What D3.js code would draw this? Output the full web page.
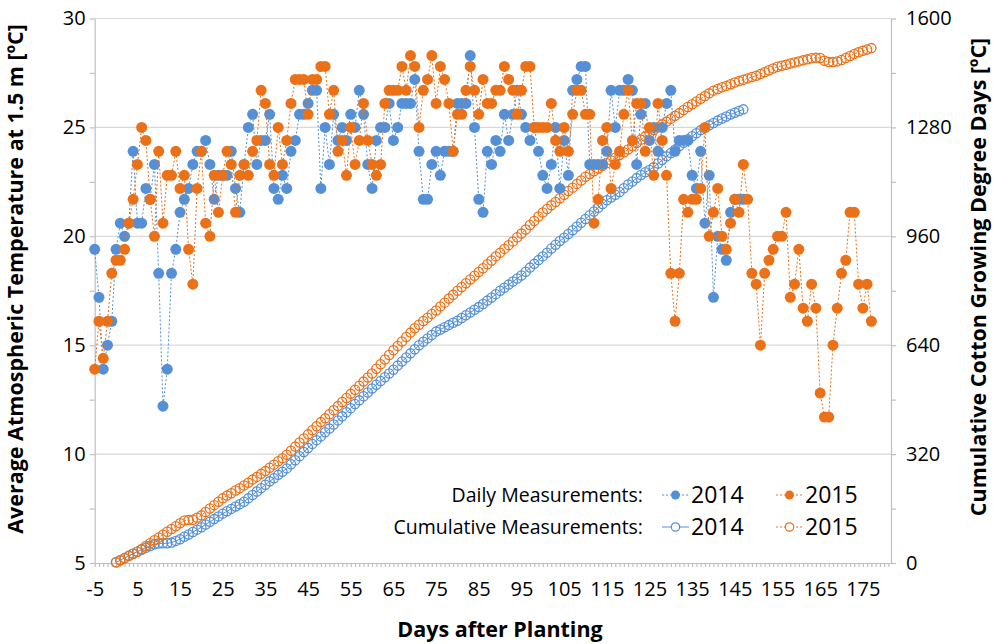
<!DOCTYPE html>
<html>
<head>
<meta charset="utf-8">
<script src="https://cdn.jsdelivr.net/npm/d3@7"></script>
<style>
  body { margin: 0; background: #fff; }
  svg text { font-family: "Open Sans", Lato, sans-serif; fill: #000; }
</style>
</head>
<body>
<svg id="chart" width="997" height="644"></svg>
<script>
// tick labels
const tempTicks = [5, 10, 15, 20, 25, 30]
const gddTicks = [0, 320, 640, 960, 1280, 1600]
const dayTicks = [-5, 5, 15, 25, 35, 45, 55, 65, 75, 85, 95, 105, 115, 125, 135, 145, 155, 165, 175]

// daily average temperature [ºC], one value per day starting at the start day
const daily2014Start = -5
const daily2014 = [
  19.4, 17.2, 13.9, 15.0, 16.1, 19.4, 20.6, 20.0, 20.6, 23.9,   // -5..4
  20.6, 20.6, 22.2, 21.7, 23.3, 18.3, 12.2, 13.9, 18.3, 19.4,   // 5..14
  21.1, 21.7, 22.2, 23.3, 23.9, 23.9, 24.4, 23.3, 21.7, 22.8,   // 15..24
  22.8, 22.8, 23.9, 22.2, 21.1, 23.3, 25.0, 25.6, 23.3, 24.4,   // 25..34
  24.4, 25.6, 22.2, 21.7, 22.8, 22.2, 23.9, 24.4, 25.6, 25.6,   // 35..44
  26.1, 26.7, 26.7, 22.2, 25.0, 23.3, 25.6, 24.4, 25.0, 24.4,   // 45..54
  25.6, 25.0, 26.7, 25.6, 23.3, 22.2, 24.4, 25.0, 25.0, 26.1,   // 55..64
  24.4, 25.0, 26.1, 26.1, 26.1, 27.2, 23.9, 21.7, 21.7, 23.3,   // 65..74
  23.9, 22.8, 23.9, 23.9, 23.9, 26.1, 26.1, 26.1, 28.3, 25.0,   // 75..84
  21.7, 21.1, 23.9, 23.3, 24.4, 23.9, 25.6, 24.4, 25.6, 26.7,   // 85..94
  25.6, 25.0, 24.4, 25.0, 23.9, 22.8, 22.2, 23.3, 25.0, 22.2,   // 95..104
  24.4, 22.8, 26.7, 27.2, 27.8, 27.8, 23.3, 23.3, 23.3, 23.3,   // 105..114
  23.9, 26.7, 25.0, 26.7, 26.7, 27.2, 26.7, 23.3, 25.6, 26.1,   // 115..124
  24.4, 25.0, 23.9, 25.0, 26.1, 26.7, 23.9, 24.4, 24.4, 24.4,   // 125..134
  22.8, 22.2, 23.9, 20.6, 22.8, 17.2, 20.0, 19.4, 18.9, 21.1,   // 135..144
  21.7, 21.7, 21.7                                              // 145..147
]
const daily2015Start = -5
const daily2015 = [
  13.9, 16.1, 14.4, 16.1, 18.3, 18.9, 18.9, 19.4, 20.6, 21.7,   // -5..4
  23.3, 25.0, 24.4, 21.7, 20.0, 23.9, 20.6, 22.8, 22.8, 23.9,   // 5..14
  22.2, 22.8, 19.4, 17.8, 22.2, 23.9, 20.6, 20.0, 22.8, 21.1,   // 15..24
  22.8, 23.9, 23.3, 21.1, 22.8, 23.3, 22.8, 23.9, 24.4, 26.7,   // 25..34
  26.1, 23.3, 22.8, 25.0, 23.3, 24.4, 26.1, 27.2, 27.2, 27.2,   // 35..44
  25.6, 27.2, 27.2, 27.8, 27.8, 25.6, 26.7, 23.9, 24.4, 22.8,   // 45..54
  25.0, 23.3, 24.4, 26.1, 24.4, 23.3, 22.8, 23.3, 26.1, 26.7,   // 55..64
  26.7, 26.7, 27.8, 26.7, 28.3, 27.8, 25.0, 26.7, 27.2, 28.3,   // 65..74
  26.1, 27.8, 27.2, 26.1, 23.9, 25.6, 25.6, 26.7, 27.8, 26.7,   // 75..84
  25.6, 27.2, 26.1, 26.1, 26.7, 26.7, 27.8, 27.2, 26.7, 25.6,   // 85..94
  26.7, 27.8, 27.8, 25.0, 25.0, 25.0, 25.0, 26.1, 24.4, 23.9,   // 95..104
  25.0, 23.9, 25.6, 26.7, 26.7, 25.6, 25.6, 20.6, 21.7, 24.4,   // 105..114
  25.0, 22.2, 23.3, 23.9, 25.6, 26.7, 24.4, 26.1, 26.1, 23.9,   // 115..124
  25.0, 22.8, 26.1, 24.4, 22.8, 18.3, 16.1, 18.3, 21.7, 21.1,   // 125..134
  21.7, 21.7, 22.2, 25.0, 20.0, 21.1, 22.2, 20.0, 19.4, 20.6,   // 135..144
  21.7, 21.1, 23.3, 21.7, 18.3, 17.8, 15.0, 18.3, 18.9, 19.4,   // 145..154
  20.0, 20.0, 21.1, 17.2, 17.8, 19.4, 16.7, 16.1, 17.8, 16.7,   // 155..164
  12.8, 11.7, 11.7, 15.0, 16.7, 18.3, 18.9, 21.1, 21.1, 17.8,   // 165..174
  16.7, 17.8, 16.1                                              // 175..177
]

// cumulative cotton growing degree days [ºC], one value per day from day 0
const cumulative2014Start = 0
const cumulative2014 = [
  2, 8, 15, 21, 27, 33, 39, 45, 50, 55,
  57, 58, 58, 60, 65, 70, 77, 84, 91, 98,
  105, 113, 121, 129, 137, 145, 152, 159, 166, 173,
  180, 190, 200, 210, 220, 230, 240, 249, 259, 268,
  278, 290, 302, 314, 326, 338, 350, 361, 372, 384,
  395, 407, 419, 431, 443, 455, 467, 478, 490, 501,
  513, 524, 535, 546, 557, 568, 580, 592, 604, 616,
  628, 640, 650, 660, 670, 680, 686, 693, 699, 706,
  712, 720, 728, 736, 744, 752, 761, 771, 780, 790,
  800, 809, 818, 827, 836, 845, 856, 868, 879, 890,
  901, 912, 924, 935, 946, 956, 967, 978, 989, 1000,
  1011, 1022, 1033, 1044, 1055, 1066, 1074, 1082, 1090, 1101,
  1112, 1121, 1131, 1140, 1148, 1155, 1163, 1174, 1184, 1195,
  1205, 1215, 1225, 1235, 1245, 1254, 1263, 1272, 1279, 1286,
  1293, 1300, 1306, 1312, 1318, 1323, 1328, 1333
]
const cumulative2015Start = 0
const cumulative2015 = [
  2, 8, 14, 21, 27, 33, 41, 50, 58, 67,
  75, 83, 92, 100, 108, 117, 125, 126, 127, 133,
  140, 150, 160, 170, 180, 190, 198, 205, 213, 220,
  228, 236, 245, 253, 262, 270, 280, 289, 299, 308,
  318, 330, 342, 354, 366, 378, 390, 402, 414, 425,
  437, 449, 461, 473, 485, 497, 509, 521, 533, 545,
  557, 571, 584, 598, 611, 625, 638, 651, 664, 677,
  690, 700, 711, 721, 732, 742, 754, 765, 777, 788,
  800, 811, 822, 833, 844, 855, 866, 878, 889, 901,
  912, 923, 934, 945, 957, 968, 980, 993, 1005, 1018,
  1030, 1040, 1051, 1061, 1072, 1082, 1093, 1103, 1114, 1124,
  1135, 1143, 1151, 1159, 1167, 1175, 1183, 1191, 1199, 1207,
  1215, 1225, 1234, 1244, 1253, 1263, 1272, 1280, 1289, 1297,
  1305, 1314, 1322, 1331, 1340, 1348, 1356, 1364, 1372, 1380,
  1388, 1393, 1398, 1402, 1407, 1412, 1416, 1420, 1424, 1428,
  1432, 1437, 1442, 1448, 1453, 1458, 1461, 1464, 1468, 1471,
  1474, 1477, 1480, 1483, 1485, 1484, 1476, 1472, 1472, 1474,
  1478, 1484, 1490, 1496, 1501, 1505, 1509, 1513
]

const blue = '#5590d6'
const orange = '#eb7118'
const axisGrey = '#bfbfbf'
const gridGrey = '#d9d9d9'

const svg = d3.select('#chart')

const x = d3.scaleLinear().domain([-5, 181.6]).range([94.7, 891])
const yTemp = d3.scaleLinear().domain([5, 30]).range([563, 18.5])
const yGdd = d3.scaleLinear().domain([0, 1600]).range([563, 18.5])

const toPoints = (values, start) => values.map((v, i) => ({ day: start + i, v }))

// horizontal gridlines
svg.append('g')
  .selectAll('line')
  .data(tempTicks.filter(d => d > 5))
  .join('line')
  .attr('x1', x.range()[0])
  .attr('x2', x.range()[1])
  .attr('y1', d => yTemp(d))
  .attr('y2', d => yTemp(d))
  .attr('stroke', gridGrey)
  .attr('stroke-width', 1.2)

/**
 * greys out the axis line and ticks and sets the label font
 * @param {selection} g the axis group
 */
const styleAxis = g => {
  g.selectAll('.domain, .tick line').attr('stroke', axisGrey).attr('stroke-width', 1.2)
  g.selectAll('text').attr('font-size', 20).attr('fill', '#000')
}

const leftAxis = d3.axisLeft(yTemp)
  .tickValues(d3.range(5, 30.1, 2.5))
  .tickFormat(d => tempTicks.includes(d) ? d : '')
  .tickSize(5)
  .tickSizeOuter(0)
  .tickPadding(4)
svg.append('g')
  .attr('transform', `translate(${x.range()[0]},0)`)
  .call(leftAxis)
  .call(styleAxis)

const rightAxis = d3.axisRight(yGdd)
  .tickValues(d3.range(0, 1601, 160))
  .tickFormat(d => gddTicks.includes(d) ? d : '')
  .tickSize(5)
  .tickSizeOuter(0)
  .tickPadding(10)
svg.append('g')
  .attr('transform', `translate(${x.range()[1]},0)`)
  .call(rightAxis)
  .call(styleAxis)

const bottomAxis = d3.axisBottom(x)
  .tickValues(d3.range(-5, 182, 1))
  .tickFormat(d => dayTicks.includes(d) ? d : '')
  .tickSize(4)
  .tickSizeOuter(0)
  .tickPadding(15)
svg.append('g')
  .attr('transform', `translate(0,${yTemp.range()[0]})`)
  .call(bottomAxis)
  .call(styleAxis)

// axis titles
svg.append('text')
  .attr('transform', `translate(23,279) rotate(-90)`)
  .attr('text-anchor', 'middle')
  .attr('font-size', 21.5)
  .attr('font-weight', 'bold')
  .text('Average Atmospheric Temperature at 1.5 m [ºC]')

svg.append('text')
  .attr('transform', `translate(986,277) rotate(-90)`)
  .attr('text-anchor', 'middle')
  .attr('font-size', 21.5)
  .attr('font-weight', 'bold')
  .text('Cumulative Cotton Growing Degree Days [ºC]')

svg.append('text')
  .attr('x', 500)
  .attr('y', 637)
  .attr('text-anchor', 'middle')
  .attr('font-size', 21.5)
  .attr('font-weight', 'bold')
  .text('Days after Planting')

/**
 * draws one series: connecting line and circle markers
 */
const drawSeries = (points, yScale, opts) => {
  const g = svg.append('g')
  const line = d3.line().x(d => x(d.day)).y(d => yScale(d.v))
  g.append('path')
    .datum(points)
    .attr('d', line)
    .attr('fill', 'none')
    .attr('stroke', opts.color)
    .attr('stroke-width', 1)
    .attr('stroke-dasharray', opts.dash || null)
  g.selectAll('circle')
    .data(points)
    .join('circle')
    .attr('cx', d => x(d.day))
    .attr('cy', d => yScale(d.v))
    .attr('r', opts.r)
    .attr('fill', opts.filled ? opts.color : '#fff')
    .attr('fill-opacity', opts.filled ? 1 : 0)
    .attr('stroke', opts.color)
    .attr('stroke-width', opts.filled ? 0 : 1.3)
}

drawSeries(toPoints(cumulative2014, cumulative2014Start), yGdd, { color: blue, r: 4.6, filled: false })
drawSeries(toPoints(cumulative2015, cumulative2015Start), yGdd, { color: orange, r: 4.6, filled: false, dash: '2,2' })
drawSeries(toPoints(daily2014, daily2014Start), yTemp, { color: blue, r: 5.5, filled: true, dash: '2,2' })
drawSeries(toPoints(daily2015, daily2015Start), yTemp, { color: orange, r: 5.5, filled: true, dash: '2,2' })

// legend
const legendRows = [
  { label: 'Daily Measurements:', y: 495, filled: true },
  { label: 'Cumulative Measurements:', y: 527, filled: false }
]
const legendYears = [
  { year: '2014', color: blue, x0: 662 },
  { year: '2015', color: orange, x0: 776 }
]
const legend = svg.append('g')
legendRows.forEach(row => {
  legend.append('text')
    .attr('x', 643)
    .attr('y', row.y)
    .attr('dy', '0.35em')
    .attr('text-anchor', 'end')
    .attr('font-size', 19.5)
    .text(row.label)
  legendYears.forEach(item => {
    const dashed = row.filled || item.year === '2015'
    legend.append('line')
      .attr('x1', item.x0).attr('x2', item.x0 + 27)
      .attr('y1', row.y).attr('y2', row.y)
      .attr('stroke', item.color)
      .attr('stroke-width', 1)
      .attr('stroke-dasharray', dashed ? '2,2' : null)
    legend.append('circle')
      .attr('cx', item.x0 + 13.5)
      .attr('cy', row.y)
      .attr('r', row.filled ? 4.5 : 4.2)
      .attr('fill', row.filled ? item.color : '#fff')
      .attr('stroke', item.color)
      .attr('stroke-width', row.filled ? 0 : 1.2)
    legend.append('text')
      .attr('x', item.x0 + 29)
      .attr('y', row.y)
      .attr('dy', '0.35em')
      .attr('font-size', 23)
      .text(item.year)
  })
})
</script>
</body>
</html>
